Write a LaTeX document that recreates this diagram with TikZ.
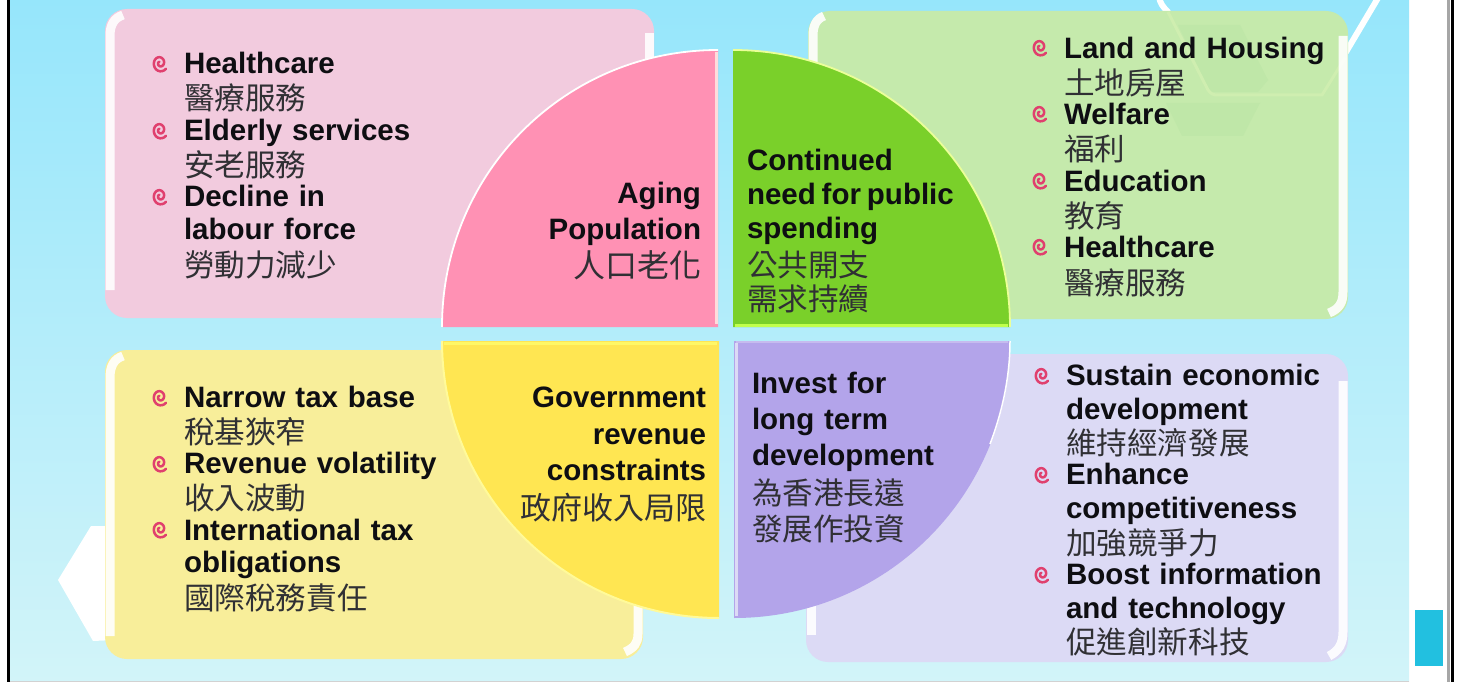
\documentclass[tikz,border=0pt]{standalone}
\usepackage{fontspec}
\setmainfont{Liberation Sans}[WordSpace=1.2]
\newfontfamily\cjk{Noto Sans CJK TC}
\usetikzlibrary{shadings}
\definecolor{skytop}{HTML}{96E6FB}
\definecolor{skybot}{HTML}{D2F4F9}
\definecolor{pinkpanel}{HTML}{F2CBDE}
\definecolor{greenpanel}{HTML}{C5EAAC}
\definecolor{greenhexa}{HTML}{BFE7A8}
\definecolor{greenhexline}{HTML}{CFEEB0}
\definecolor{yellowpanel}{HTML}{F8EE9A}
\definecolor{lavpanel}{HTML}{DCDAF5}
\definecolor{pinkquad}{HTML}{FF91B4}
\definecolor{greenquad}{HTML}{7AD02A}
\definecolor{yellowquad}{HTML}{FFE652}
\definecolor{purplequad}{HTML}{B3A4EA}
\definecolor{spiralred}{HTML}{E0406E}
\definecolor{tabteal}{HTML}{22C0E0}
\definecolor{inktext}{HTML}{0E0E12}
\definecolor{inkcjk}{HTML}{303034}
\tikzset{
  en/.style={inner sep=0pt,outer sep=0pt,text=inktext,yshift=-0.8pt,font=\fontsize{29.5}{33}\bfseries\selectfont},
  zh/.style={inner sep=0pt,outer sep=0pt,text=inkcjk,yshift=-1.2pt,font=\fontsize{30.6}{33}\cjk\selectfont},
  le/.style={anchor=base west},
  ri/.style={anchor=base east},
  panel/.style={rounded corners=22pt,draw=none},
  strip/.style={draw=white,line width=9pt,opacity=.9},
  hexline/.style={draw=white,line width=6pt,line cap=round},
  spiralline/.style={draw=spiralred,line width=2.5pt,line cap=round},
}
\newcommand{\spiralbul}[2]{%
  \draw[spiralline,shift={(#1,#2)}] plot[smooth,samples=34,domain=40:600]
    ({(1.2+6.6*(600-\x)/560)*cos(\x)},{(1.2+7.8*(600-\x)/560)*sin(\x)});}
\begin{document}
\begin{tikzpicture}[x=1pt,y=-1pt]
\useasboundingbox (0,0) rectangle (1465,682);
\fill[white] (0,0) rectangle (1465,682);
\shade[top color=skytop,bottom color=skybot] (9,0) rectangle (1409,682);
\fill[black] (7,0) rectangle (10,682);
\fill[gray!35] (10,681) rectangle (1409,682);
\fill[gray!70] (1447,0) rectangle (1450,682);
\fill[black] (1451,0) rectangle (1454,682);
\fill[tabteal] (1415,610) rectangle (1443,666);
% background hexagons
\draw[hexline] (1159,-3) .. controls (1160,3) and (1163,7) .. (1168,12);
\draw[hexline] (1378,-2) -- (1346,52);
\fill[white] (58,580) -- (91,526) -- (115,526) -- (115,640) -- (93,641) -- cycle;
% panels
\fill[pinkpanel,panel] (105,9) rectangle (654,318);
\fill[greenpanel,panel] (808,11) rectangle (1348,319);
\fill[yellowpanel,panel] (105,350) rectangle (643,659);
\fill[lavpanel,panel] (806,354) rectangle (1348,662);
% faint hexagons seen through the green panel
\fill[greenhexa] (1178,25) -- (1240,25) -- (1268,80) -- (1258,92) -- (1210,92) -- cycle;
\fill[greenhexa] (1166,103) -- (1260,103) -- (1243,136) -- (1182,136) -- cycle;
\draw[greenhexline,line width=3pt] (1168,12) -- (1208,90) .. controls (1211,94) and (1213,95) .. (1218,95) -- (1322,95) -- (1345,58);
% glossy strips
\draw[strip] (123,15) .. controls (114,18) and (110,25) .. (110,36) -- (110,290);
\draw[strip] (123,356) .. controls (114,359) and (110,366) .. (110,378) -- (110,636);
\draw[strip] (1343,36) -- (1343,292) .. controls (1343,303) and (1339,309) .. (1329,313);
\draw[strip] (1343,381) -- (1343,632) .. controls (1343,643) and (1339,651) .. (1329,656);
\draw[strip] (649.5,33) -- (649.5,80);
\draw[strip] (824,16) .. controls (816,19) and (813,26) .. (813,36) -- (813,80);
\draw[strip] (638,590) -- (638,634) .. controls (638,643) and (634,648) .. (625,652);
\draw[strip] (811,590) -- (811,635);
% quadrants
\fill[pinkquad] (718,50) .. controls (565,50) and (442,173) .. (442,327) -- (718,327) -- cycle;
\fill[greenquad] (733,50) .. controls (886,50) and (1010,173) .. (1010,327) -- (733,327) -- cycle;
\fill[yellowquad] (442,341) .. controls (442,494) and (566,618) .. (719,618) -- (719,341) -- cycle;
\fill[purplequad] (1010,341) .. controls (1010,494) and (887,618) .. (734,618) -- (734,341) -- cycle;
% rim lights on the arcs
\draw[white,line width=1.8pt] (718,50) .. controls (565,50) and (442,173) .. (442,327);
\draw[green!20!yellow!40!white,line width=1.8pt] (733,50) .. controls (886,50) and (1010,173) .. (1010,327);
\draw[yellow!40!white,line width=2pt] (442,341) .. controls (442,494) and (566,618) .. (719,618);
\draw[white,line width=1.5pt] (1010,341) .. controls (1010,375) and (1003,410) .. (990,444);
% rim lights on the straight sides
\draw[pink!55!white,line width=3pt] (716,52) -- (716,324);
\draw[green!35!yellow!70!white,line width=3pt] (735,325) -- (1008,325);
\draw[yellow!60!white,line width=3pt] (444,343) -- (717,343);
\draw[lavpanel,line width=3pt] (736,343) -- (736,616);
\draw[purplequad!75!white,line width=2pt] (736,342) -- (1008,342);
% bullets
\spiralbul{160}{63}\spiralbul{160}{130}\spiralbul{160}{196}
\spiralbul{1040}{47}\spiralbul{1040}{113}\spiralbul{1040}{180}\spiralbul{1040}{246}
\spiralbul{160}{397}\spiralbul{160}{463}\spiralbul{160}{529}
\spiralbul{1042}{375}\spiralbul{1042}{474}\spiralbul{1042}{574}
% pink panel text
\node[en,le] (p1) at (184,73) {Healthcare};
\node[zh,le] (p2) at (184,108) {醫療服務};
\node[en,le] (p3) at (184,140) {Elderly services};
\node[zh,le] (p4) at (184,175) {安老服務};
\node[en,le] (p5) at (184,206) {Decline in};
\node[en,le] (p6) at (184,239) {labour force};
\node[zh,le] (p7) at (184,275) {勞動力減少};
% green panel text
\node[en,le] (g1) at (1064,58) {Land and Housing};
\node[zh,le] (g2) at (1064,93) {土地房屋};
\node[en,le] (g3) at (1064,124) {Welfare};
\node[zh,le] (g4) at (1064,159) {福利};
\node[en,le] (g5) at (1064,191) {Education};
\node[zh,le] (g6) at (1064,226) {教育};
\node[en,le] (g7) at (1064,257) {Healthcare};
\node[zh,le] (g8) at (1064,293) {醫療服務};
% yellow panel text
\node[en,le] (y1) at (184,407) {Narrow tax base};
\node[zh,le] (y2) at (184,442) {稅基狹窄};
\node[en,le] (y3) at (184,473) {Revenue volatility};
\node[zh,le] (y4) at (184,508) {收入波動};
\node[en,le] (y5) at (184,540) {International tax};
\node[en,le] (y6) at (184,572) {obligations};
\node[zh,le] (y7) at (184,608) {國際稅務責任};
% lavender panel text
\node[en,le] (l1) at (1066,385) {Sustain economic};
\node[en,le] (l2) at (1066,419) {development};
\node[zh,le] (l3) at (1066,453) {維持經濟發展};
\node[en,le] (l4) at (1066,484) {Enhance};
\node[en,le] (l5) at (1066,518) {competitiveness};
\node[zh,le] (l6) at (1066,553) {加強競爭力};
\node[en,le] (l7) at (1066,584) {Boost information};
\node[en,le] (l8) at (1066,618) {and technology};
\node[zh,le] (l9) at (1066,652) {促進創新科技};
% quadrant text
\node[en,ri] (a1) at (701,203) {Aging};
\node[en,ri] (a2) at (701,239) {Population};
\node[zh,ri,font=\fontsize{32}{33}\cjk\selectfont] (a3) at (701,276) {人口老化};
\node[en,le] (c1) at (747,170) {Continued};
\node[en,le] (c2) at (747,204) {need\hspace{.2em}for\hspace{.2em}public};
\node[en,le] (c3) at (747,238) {spending};
\node[zh,le] (c4) at (747,275) {公共開支};
\node[zh,le] (c5) at (747,309) {需求持續};
\node[en,ri] (r1) at (706,407) {Government};
\node[en,ri] (r2) at (706,444) {revenue};
\node[en,ri] (r3) at (706,480) {constraints};
\node[zh,ri,font=\fontsize{31}{33}\cjk\selectfont] (r4) at (706,518) {政府收入局限};
\node[en,le] (i1) at (752,393) {Invest for};
\node[en,le] (i2) at (752,429) {long term};
\node[en,le] (i3) at (752,465) {development};
\node[zh,le] (i4) at (752,503) {為香港長遠};
\node[zh,le] (i5) at (752,539) {發展作投資};
\end{tikzpicture}
\end{document}
